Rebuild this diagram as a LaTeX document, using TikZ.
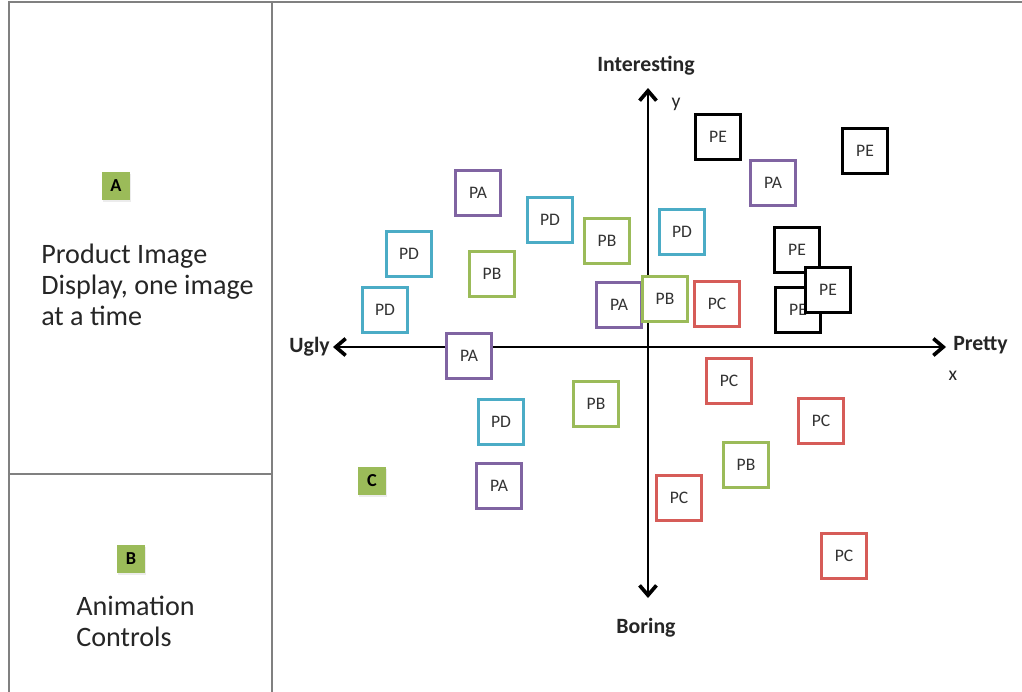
\documentclass[tikz,border=0pt]{standalone}
\usepackage{fontspec}
\setmainfont{Carlito}
\usetikzlibrary{
  arrows.meta,
  positioning,
  shadows,
}
\definecolor{pacol}{RGB}{128,100,162}
\definecolor{pbcol}{RGB}{155,187,89}
\definecolor{pccol}{RGB}{214,92,88}
\definecolor{pdcol}{RGB}{75,172,198}
\definecolor{framecol}{RGB}{128,128,128}

\begin{document}
\begin{tikzpicture}[
  x=0.025cm,
  y=-0.025cm,
  frame/.style={
    draw=framecol,
    line width=1.8pt,
  },
  product/.style n args={1}{
    draw=#1,
    line width=2.1pt,
    fill=white,
    minimum size=32.6pt,
    inner sep=0pt,
    text=black!80,
    font={\fontsize{12.5}{14}\selectfont},
  },
  badge/.style={
    fill=pbcol,
    minimum size=20pt,
    inner sep=0pt,
    font={\bfseries\fontsize{13}{15}\selectfont},
    drop shadow={opacity=0.15,shadow xshift=1pt,shadow yshift=-1.5pt},
  },
  caption/.style={
    align=left,
    inner sep=0pt,
    text=black!85,
    font={\fontsize{20}{22}\selectfont},
  },
  axis label/.style={
    inner sep=0pt,
    text=black!85,
    font={\bfseries\fontsize{15.5}{18}\selectfont},
  },
  axis/.style={
    {Straight Barb[length=7pt,width=12pt,line width=2.6pt]}-{Straight Barb[length=7pt,width=12pt,line width=2.6pt]},
    line width=2.1pt,
    draw=black,
  },
]
  \useasboundingbox (0,0) rectangle (1022,692);

  %%%%%%%%%%%%%%%%%%%% Panels %%%%%%%%%%%%%%%%%%%%

  \draw[frame] (9,692) -- (9,2) -- (1022,2);
  \draw[frame] (272,2) -- (272,692);
  \draw[frame] (9,474) -- (272,474);

  \node[badge] (badge-a) at (116,186) {A};
  \node[caption,anchor=west] (display) at (41,285)
    {Product Image\\Display, one image\\at a time};

  \node[badge] (badge-b) at (131,559) {B};
  \node[caption,anchor=west] (controls) at (76,621)
    {Animation\\Controls};

  \node[badge] (badge-c) at (372,481) {C};

  %%%%%%%%%%%%%%%%%%%% Axes %%%%%%%%%%%%%%%%%%%%

  \coordinate (top) at (648,88);
  \coordinate (bottom) at (648,598);
  \coordinate (left) at (333,347);
  \coordinate (right) at (946,347);

  \draw[axis] (left) -- (right);
  \draw[axis] (bottom) -- (top);

  \node[axis label] (interesting) at (646,66) {Interesting};
  \node[axis label] (boring) at (646,628) {Boring};
  \node[axis label,anchor=east] (ugly) at (330,347) {Ugly};
  \node[axis label,anchor=west] (pretty) at (953,345) {Pretty};
  \node[axis label,font={\fontsize{14}{16}\selectfont}] (y-label) at (676,104) {y};
  \node[axis label,font={\fontsize{14}{16}\selectfont}] (x-label) at (953,376) {x};

  %%%%%%%%%%%%%%%%%%%% Products %%%%%%%%%%%%%%%%%%%%

  \foreach \x/\y [count=\i] in {550/220,682/232,409/254,385/310,501/422} {
    \node[product={pdcol}] (pd-\i) at (\x,\y) {PD};
  }

  \foreach \x/\y [count=\i] in {478/193,773/183,619/305,469/356,499/486} {
    \node[product={pacol}] (pa-\i) at (\x,\y) {PA};
  }

  \foreach \x/\y [count=\i] in {607/241,492/274,665/299,596/404,746/465} {
    \node[product={pbcol}] (pb-\i) at (\x,\y) {PB};
  }

  \foreach \x/\y [count=\i] in {717/304,729/381,821/421,679/498,844/556} {
    \node[product={pccol}] (pc-\i) at (\x,\y) {PC};
  }

  \foreach \x/\y [count=\i] in {718/137,865/151,797/250,798/310,828/290} {
    \node[product={black}] (pe-\i) at (\x,\y) {PE};
  }
\end{tikzpicture}
\end{document}
